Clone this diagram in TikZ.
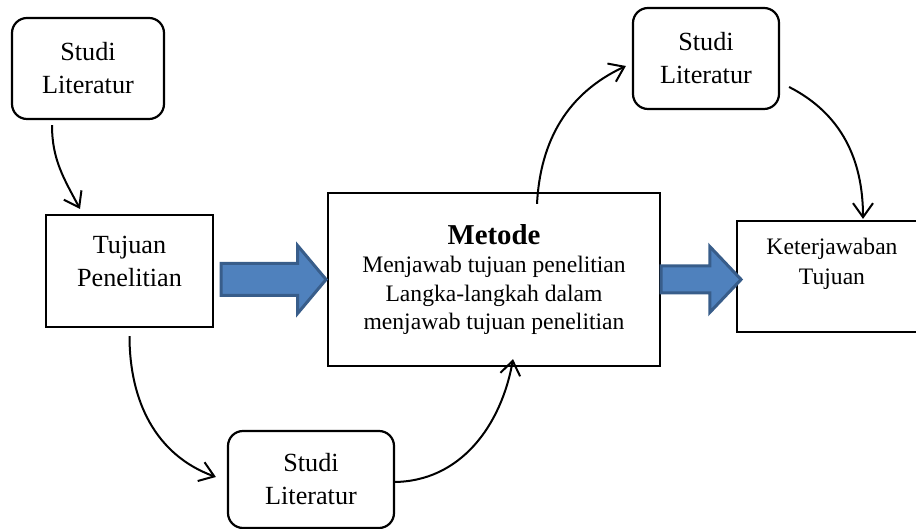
\documentclass[tikz,border=0pt]{standalone}
\usepackage{fontspec}
\setmainfont{Liberation Serif}
\usetikzlibrary{arrows.meta,positioning,shapes.arrows,calc}
\definecolor{fatfill}{RGB}{79,129,189}
\definecolor{fatdraw}{RGB}{56,93,138}

\begin{document}
\begin{tikzpicture}[x=0.5pt, y=0.5pt,
  box/.style={draw, line width=1.1pt, align=center, inner sep=0pt,
              font=\fontsize{13.1}{16.5}\selectfont},
  litbox/.style={box, rounded corners=7.5pt},
  smalltext/.style={font=\fontsize{11.8}{15}\selectfont},
  fatarrow/.style={single arrow, draw=fatdraw, fill=fatfill, line width=1.5pt,
                   single arrow head extend=9pt, inner xsep=0pt, anchor=tail},
  arrow/.style={-{Straight Barb[length=7pt,width=10pt]}, line width=1pt}]

\useasboundingbox (0,0) rectangle (916,529);

\node[litbox, minimum width=76pt, minimum height=50.5pt] (lit1) at (88,460.5) {Studi\\Literatur};
\node[box, minimum width=83.5pt, minimum height=56pt] (tujuan) at (129.5,258) {Tujuan\\Penelitian\\[-6.5pt]\mbox{}};
\node[box, minimum width=166pt, minimum height=86.5pt, font=\fontsize{11.8}{14.3}\selectfont] (metode) at (494,249.5)
  {{\fontsize{14.4}{14.4}\selectfont\bfseries Metode}\\Menjawab tujuan penelitian\\Langka-langkah dalam\\menjawab tujuan penelitian};
\node[box, smalltext, minimum width=95pt, minimum height=55.5pt] (ket) at (832,252.5) {Keterjawaban\\Tujuan\\\mbox{}};
\node[litbox, minimum width=73pt, minimum height=50.5pt] (lit2) at (706,470.5) {Studi\\Literatur};
\node[litbox, minimum width=83pt, minimum height=48.5pt] (lit3) at (311,49.5) {Studi\\Literatur};

% block arrows
\node[fatarrow, minimum height=52.5pt, inner ysep=7.25pt, single arrow tip angle=100] (push1)
  at ($(tujuan.east |- metode)+(5.5,0)$) {};
\node[fatarrow, minimum height=40pt, inner ysep=6pt, single arrow head extend=9.75pt,
  single arrow tip angle=93] (push2) at ($(metode.east)+(-1.5,0)$) {};

% curved arrows
\draw[arrow] ([xshift=-18pt,yshift=-2.5pt]lit1.south) to[out=-90,in=118] ([xshift=-24.75pt,yshift=2.5pt]tujuan.north);
\draw[arrow] ([yshift=-4pt]tujuan.south) to[out=-90,in=160] ([xshift=-5.5pt,yshift=1.25pt]lit3.west);
\draw[arrow] ([xshift=-1pt,yshift=-1.25pt]lit3.east) to[out=0,in=-100] ([xshift=9.5pt,yshift=4pt]metode.south);
\draw[arrow] ([xshift=21.5pt,yshift=-6pt]metode.north) to[out=87,in=205] ([xshift=-3pt,yshift=-3.75pt]lit2.west);
\draw[arrow] ([xshift=4.5pt,yshift=-14.25pt]lit2.east) to[out=-27,in=90] ([xshift=15.5pt,yshift=0.5pt]ket.north);
\end{tikzpicture}
\end{document}
